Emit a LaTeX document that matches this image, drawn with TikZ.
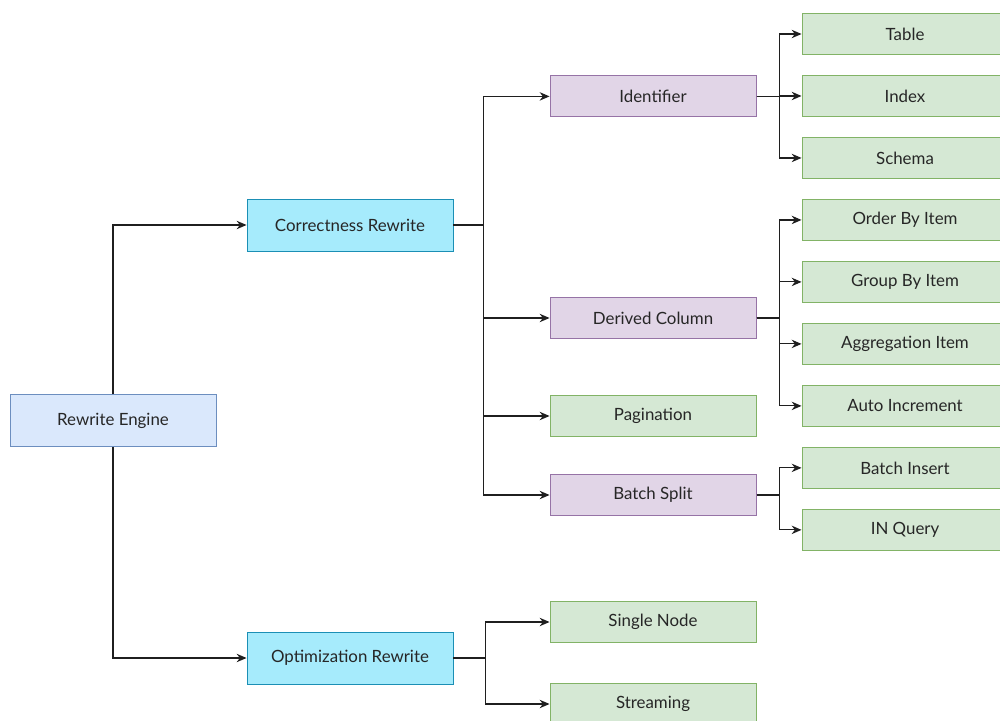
\documentclass[tikz,border=0pt]{standalone}
\usepackage{fontspec}
\setmainfont{Lato}
\usepackage{tikz}
\usetikzlibrary{positioning}
\usetikzlibrary{shapes,arrows,calc,arrows.meta}

\definecolor{rootfill}{HTML}{DAE8FC}
\definecolor{rootline}{HTML}{6C8EBF}
\definecolor{midfill}{HTML}{A6EBFC}
\definecolor{midline}{HTML}{1B8FB5}
\definecolor{subfill}{HTML}{E1D5E7}
\definecolor{subline}{HTML}{9673A6}
\definecolor{leaffill}{HTML}{D5E8D4}
\definecolor{leafline}{HTML}{82B366}
\definecolor{wire}{HTML}{1F1F1F}

\tikzset{
  box/.style={draw, rectangle, minimum width=5.15cm, font=\fontsize{12}{14}\selectfont, text=black!85, line width=0.7pt},
  rootbox/.style={box, fill=rootfill, draw=rootline, minimum height=1.3cm},
  midbox/.style={box, fill=midfill, draw=midline, minimum height=1.3cm},
  subbox/.style={box, fill=subfill, draw=subline, minimum height=1.025cm},
  leafbox/.style={box, fill=leaffill, draw=leafline, minimum height=1.025cm},
  wireline/.style={draw=wire, line width=0.8pt, -{Stealth[length=7pt,width=6pt]}}
}

\begin{document}
\begin{tikzpicture}[node distance=0.5cm]
  \clip (0,0) rectangle (25,18);

  % Nodes
  \node [rootbox] (engine) at (2.825,7.49) {Rewrite Engine};
  \node [midbox] (correct) at (8.75,12.375) {Correctness Rewrite};
  \node [midbox] (optim) at (8.75,1.55) {Optimization Rewrite};

  \node [subbox] (ident) at (16.325,15.59) {Identifier};
  \node [subbox] (derived) at (16.325,10.05) {Derived Column};
  \node [leafbox] (page) at (16.325,7.6) {Pagination};
  \node [subbox] (split) at (16.325,5.625) {Batch Split};
  \node [leafbox] (single) at (16.325,2.45) {Single Node};
  \node [leafbox] (stream) at (16.325,0.4) {Streaming};

  \node [leafbox] (table) at (22.625,17.15) {Table};
  \node [leafbox, below=of table] (index) {Index};
  \node [leafbox, below=of index] (schema) {Schema};
  \node [leafbox, below=of schema] (orderby) {Order By Item};
  \node [leafbox, below=of orderby] (groupby) {Group By Item};
  \node [leafbox, below=of groupby] (aggr) {Aggregation Item};
  \node [leafbox, below=of aggr] (autoinc) {Auto Increment};
  \node [leafbox, below=of autoinc] (insert) {Batch Insert};
  \node [leafbox, below=of insert] (inquery) {IN Query};

  % Arrows
  \draw [wireline] (engine.north) |- (correct.west);
  \draw [wireline] (engine.south) |- (optim.west);

  \foreach \child in {ident, derived, page, split}
    \draw [wireline] (correct.east) -- ++(0.75,0) |- (\child.west);
  \foreach \child in {single, stream}
    \draw [wireline] (optim.east) -- ++(0.8,0) |- (\child.west);

  \foreach \child in {table, index, schema}
    \draw [wireline] (ident.east) -- ++(0.575,0) |- (\child.west);
  \foreach \child in {orderby, groupby, aggr, autoinc}
    \draw [wireline] (derived.east) -- ++(0.575,0) |- (\child.west);
  \foreach \child in {insert, inquery}
    \draw [wireline] (split.east) -- ++(0.575,0) |- (\child.west);
\end{tikzpicture}
\end{document}
